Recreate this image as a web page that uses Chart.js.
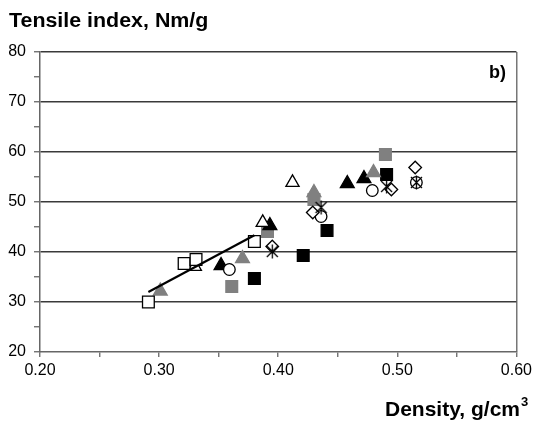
<!DOCTYPE html>
<html>
<head>
<meta charset="utf-8">
<script src="https://cdn.jsdelivr.net/npm/chart.js@4.4.0/dist/chart.umd.min.js"></script>
<style>
  html, body { margin: 0; padding: 0; background: #fff; }
  #wrap { width: 536px; height: 422px; }
</style>
</head>
<body>
<div id="wrap"><canvas id="tensileChart" width="536" height="422"></canvas></div>
<script>
// axis labels
var xTickLabels = ['0.20', '0.30', '0.40', '0.50', '0.60'];
var yTickLabels = ['20', '30', '40', '50', '60', '70', '80'];

// density (g/cm3) and tensile index (Nm/g) per pulp series
var openSquareDensity = [0.291, 0.321, 0.331, 0.380];
var openSquareTensile = [30.0, 37.7, 38.5, 42.1];

var openTriDensity = [0.330, 0.387, 0.412];
var openTriTensile = [37.1, 45.9, 53.9];

var grayTriDensity = [0.301, 0.370, 0.430, 0.480];
var grayTriTensile = [32.2, 38.7, 51.9, 55.9];

var blackTriDensity = [0.352, 0.393, 0.458, 0.472];
var blackTriTensile = [37.3, 45.3, 53.7, 54.7];

var graySquareDensity = [0.361, 0.391, 0.430, 0.490];
var graySquareTensile = [33.1, 44.1, 50.5, 59.5];

var blackSquareDensity = [0.380, 0.421, 0.441, 0.491];
var blackSquareTensile = [34.7, 39.3, 44.3, 55.5];

var circleDensity = [0.359, 0.436, 0.479, 0.516];
var circleTensile = [36.5, 47.1, 52.3, 53.9];

var diamondDensity = [0.395, 0.429, 0.495, 0.515];
var diamondTensile = [41.1, 47.9, 52.5, 56.9];

var starDensity = [0.395, 0.436, 0.491, 0.516];
var starTensile = [40.1, 48.9, 53.1, 53.9];

function toPoints(xs, ys){
    var pts = [];
    for (var i = 0; i < xs.length; i++) {
        pts.push({x: xs[i], y: ys[i]});
    }
    return pts;
}

// least squares line through the open squares
function fitLine(xs, ys){
    var n = xs.length, mx = 0, my = 0, sxx = 0, sxy = 0;
    for (var i = 0; i < n; i++) { mx += xs[i]; my += ys[i]; }
    mx /= n; my /= n;
    for (var j = 0; j < n; j++) {
        sxx += (xs[j] - mx) * (xs[j] - mx);
        sxy += (xs[j] - mx) * (ys[j] - my);
    }
    var k = sxy / sxx;
    var x0 = Math.min.apply(null, xs), x1 = Math.max.apply(null, xs);
    return [{x: x0, y: my + k * (x0 - mx)}, {x: x1, y: my + k * (x1 - mx)}];
}

// asterisk marker: X with a vertical stroke
function makeStar(){
    var c = document.createElement('canvas');
    c.width = 15; c.height = 15;
    var g = c.getContext('2d');
    g.strokeStyle = '#000';
    g.lineWidth = 1.3;
    g.beginPath();
    g.moveTo(2, 2); g.lineTo(13, 13);
    g.moveTo(13, 2); g.lineTo(2, 13);
    g.moveTo(7.5, 0.5); g.lineTo(7.5, 14.5);
    g.stroke();
    return c;
}

var GRAY = '#808080';

function scatterSet(label, xs, ys, style, fill, stroke, r){
    return {
        label: label,
        data: toPoints(xs, ys),
        pointStyle: style,
        pointRadius: r,
        pointHoverRadius: r,
        pointBackgroundColor: fill,
        pointBorderColor: stroke,
        pointBorderWidth: 1.3,
        showLine: false
    };
}

var textPlugin = {
    id: 'textLabels',
    afterDraw: function(chart){
        var ctx = chart.ctx;
        ctx.save();
        ctx.fillStyle = '#000';
        ctx.textBaseline = 'alphabetic';
        ctx.textAlign = 'left';

        ctx.font = 'bold 20px "Liberation Sans", Arial, sans-serif';
        ctx.save();
        ctx.translate(9, 27);
        ctx.scale(1.07, 1);
        ctx.fillText('Tensile index, Nm/g', 0, 0);
        ctx.restore();

        ctx.font = 'bold 21px "Liberation Sans", Arial, sans-serif';
        var main = 'Density, g/cm';
        ctx.fillText(main, 385, 416);
        var w = ctx.measureText(main).width;
        ctx.font = 'bold 13px "Liberation Sans", Arial, sans-serif';
        ctx.fillText('3', 385 + w + 1, 406);

        ctx.font = 'bold 18px "Liberation Sans", Arial, sans-serif';
        ctx.textAlign = 'right';
        ctx.fillText('b)', 506, 78);
        ctx.restore();
    }
};

var ctx = document.getElementById('tensileChart').getContext('2d');

var fitData = fitLine(openSquareDensity, openSquareTensile);

var chart = new Chart(ctx, {
    type: 'scatter',
    data: {
        datasets: [
            {
                type: 'line',
                label: 'fit',
                data: fitData,
                borderColor: '#000',
                borderWidth: 2.2,
                pointRadius: 0,
                fill: false
            },
            scatterSet('s9', starDensity, starTensile, makeStar(), '#000', '#000', 7),
            scatterSet('s8', diamondDensity, diamondTensile, 'rectRot', '#fff', '#000', 6.3),
            scatterSet('s7', circleDensity, circleTensile, 'circle', '#fff', '#000', 5.8),
            scatterSet('s1', openSquareDensity, openSquareTensile, 'rect', '#fff', '#000', 8.3),
            scatterSet('s2', openTriDensity, openTriTensile, 'triangle', '#fff', '#000', 7.6),
            scatterSet('s3', grayTriDensity, grayTriTensile, 'triangle', GRAY, GRAY, 8),
            scatterSet('s4', blackTriDensity, blackTriTensile, 'triangle', '#000', '#000', 8),
            scatterSet('s5', graySquareDensity, graySquareTensile, 'rect', GRAY, GRAY, 8.3),
            scatterSet('s6', blackSquareDensity, blackSquareTensile, 'rect', '#000', '#000', 8.3)
        ]
    },
    options: {
        responsive: false,
        animation: false,
        layout: { padding: { top: 52, right: 19, left: 0, bottom: 0 } },
        plugins: {
            legend: { display: false },
            tooltip: { enabled: false }
        },
        scales: {
            x: {
                type: 'linear',
                min: 0.2,
                max: 0.6,
                afterFit: function(scale){ scale.height = 70; },
                border: { color: '#666', width: 1.5 },
                grid: {
                    color: function(c){
                        if (c.tick && Math.abs(c.tick.value - 0.6) < 1e-6) return '#777';
                        return 'rgba(0,0,0,0)';
                    },
                    lineWidth: 1.5,
                    tickColor: '#666',
                    tickLength: 5,
                    tickWidth: 1.3
                },
                ticks: {
                    stepSize: 0.05,
                    autoSkip: false,
                    maxRotation: 0,
                    padding: 4,
                    color: '#000',
                    font: { family: '"Liberation Sans", Arial, sans-serif', size: 16 },
                    callback: function(v){
                        for (var i = 0; i < xTickLabels.length; i++) {
                            if (Math.abs(parseFloat(xTickLabels[i]) - v) < 1e-6) return xTickLabels[i];
                        }
                        return '';
                    }
                }
            },
            y: {
                min: 20,
                max: 80,
                afterFit: function(scale){ scale.width = 40; },
                border: { color: '#666', width: 1.5 },
                grid: {
                    color: function(c){
                        var v = c.tick ? c.tick.value : 0;
                        if (v === 20 || v % 10 !== 0) return 'rgba(0,0,0,0)';
                        return '#3a3a3a';
                    },
                    lineWidth: 1.5,
                    tickColor: '#666',
                    tickLength: 6,
                    tickWidth: 1.3
                },
                ticks: {
                    stepSize: 5,
                    autoSkip: false,
                    padding: 8,
                    color: '#000',
                    font: { family: '"Liberation Sans", Arial, sans-serif', size: 16 },
                    callback: function(v){
                        var s = String(v);
                        return yTickLabels.indexOf(s) >= 0 ? s : '';
                    }
                }
            }
        }
    },
    plugins: [textPlugin]
});
</script>
</body>
</html>
